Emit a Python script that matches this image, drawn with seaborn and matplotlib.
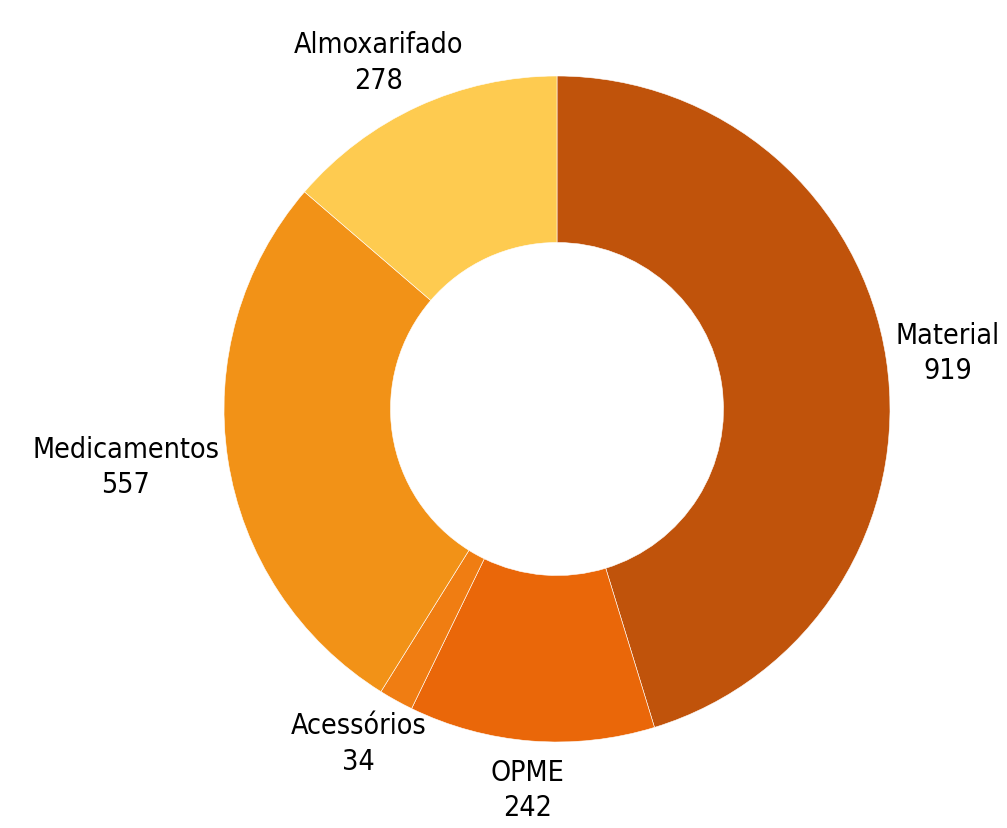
import matplotlib
matplotlib.use("Agg")
import numpy as np
import matplotlib.pyplot as plt
import seaborn as sns
from matplotlib import font_manager

categories = ["Material", "OPME", "Acessórios", "Medicamentos", "Almoxarifado"]
values = [919, 242, 34, 557, 278]
colors = ["#C0530B", "#EA6709", "#F07D12", "#F29217", "#FECB50"]

sns.set_theme(style="white")

# prefer a condensed / narrow regular face if one is installed
cond = None
for f in font_manager.fontManager.ttflist:
    nm = f.name
    stretch = str(f.stretch)
    if (("Condensed" in nm or "Narrow" in nm or stretch in ("condensed", "semi-condensed", "extra-condensed", "75", "87"))
            and f.style == "normal" and f.weight in (400, "normal", "regular")):
        cond = f
        break
if cond is not None:
    fprop = font_manager.FontProperties(fname=cond.fname, size=20.5)
else:
    plt.rcParams['font.family'] = ["Roboto", "DejaVu Sans"]
    fprop = font_manager.FontProperties(family=["Roboto", "DejaVu Sans"], size=20)

fig = plt.figure(figsize=(10.07, 8.29), dpi=100)
ax = fig.add_axes([224/1007, 86/829, 666/1007, 666/829])
wedges, _ = ax.pie(values, colors=sns.color_palette(colors), startangle=90, counterclock=False,
                   radius=1.0,
                   wedgeprops=dict(width=0.5, edgecolor="white", linewidth=0.4))
ax.set_xlim(-1, 1)
ax.set_ylim(-1, 1)
ax.set_aspect("equal")
ax.axis("off")

texts = []
for w, c, v in zip(wedges, categories, values):
    ang = np.deg2rad((w.theta1 + w.theta2) / 2)
    x, y = 1.03 * np.cos(ang), 1.05 * np.sin(ang)
    t = ax.text(x, y, f"{c}\n{v}", ha="center", va="center", fontproperties=fprop,
                linespacing=1.35, clip_on=False, color="black", multialignment="center")
    texts.append((t, np.cos(ang), np.sin(ang), x, y))

fig.canvas.draw()
r = fig.canvas.get_renderer()
for t, cx, sy, x, y in texts:
    bb = t.get_window_extent(renderer=r)
    px, py = ax.transData.transform((x, y))
    nx = px + 0.5 * cx * bb.width
    ny = py + 0.5 * sy * bb.height
    t.set_position(ax.transData.inverted().transform((nx, ny)))

fig.savefig("out.png", dpi=100)
